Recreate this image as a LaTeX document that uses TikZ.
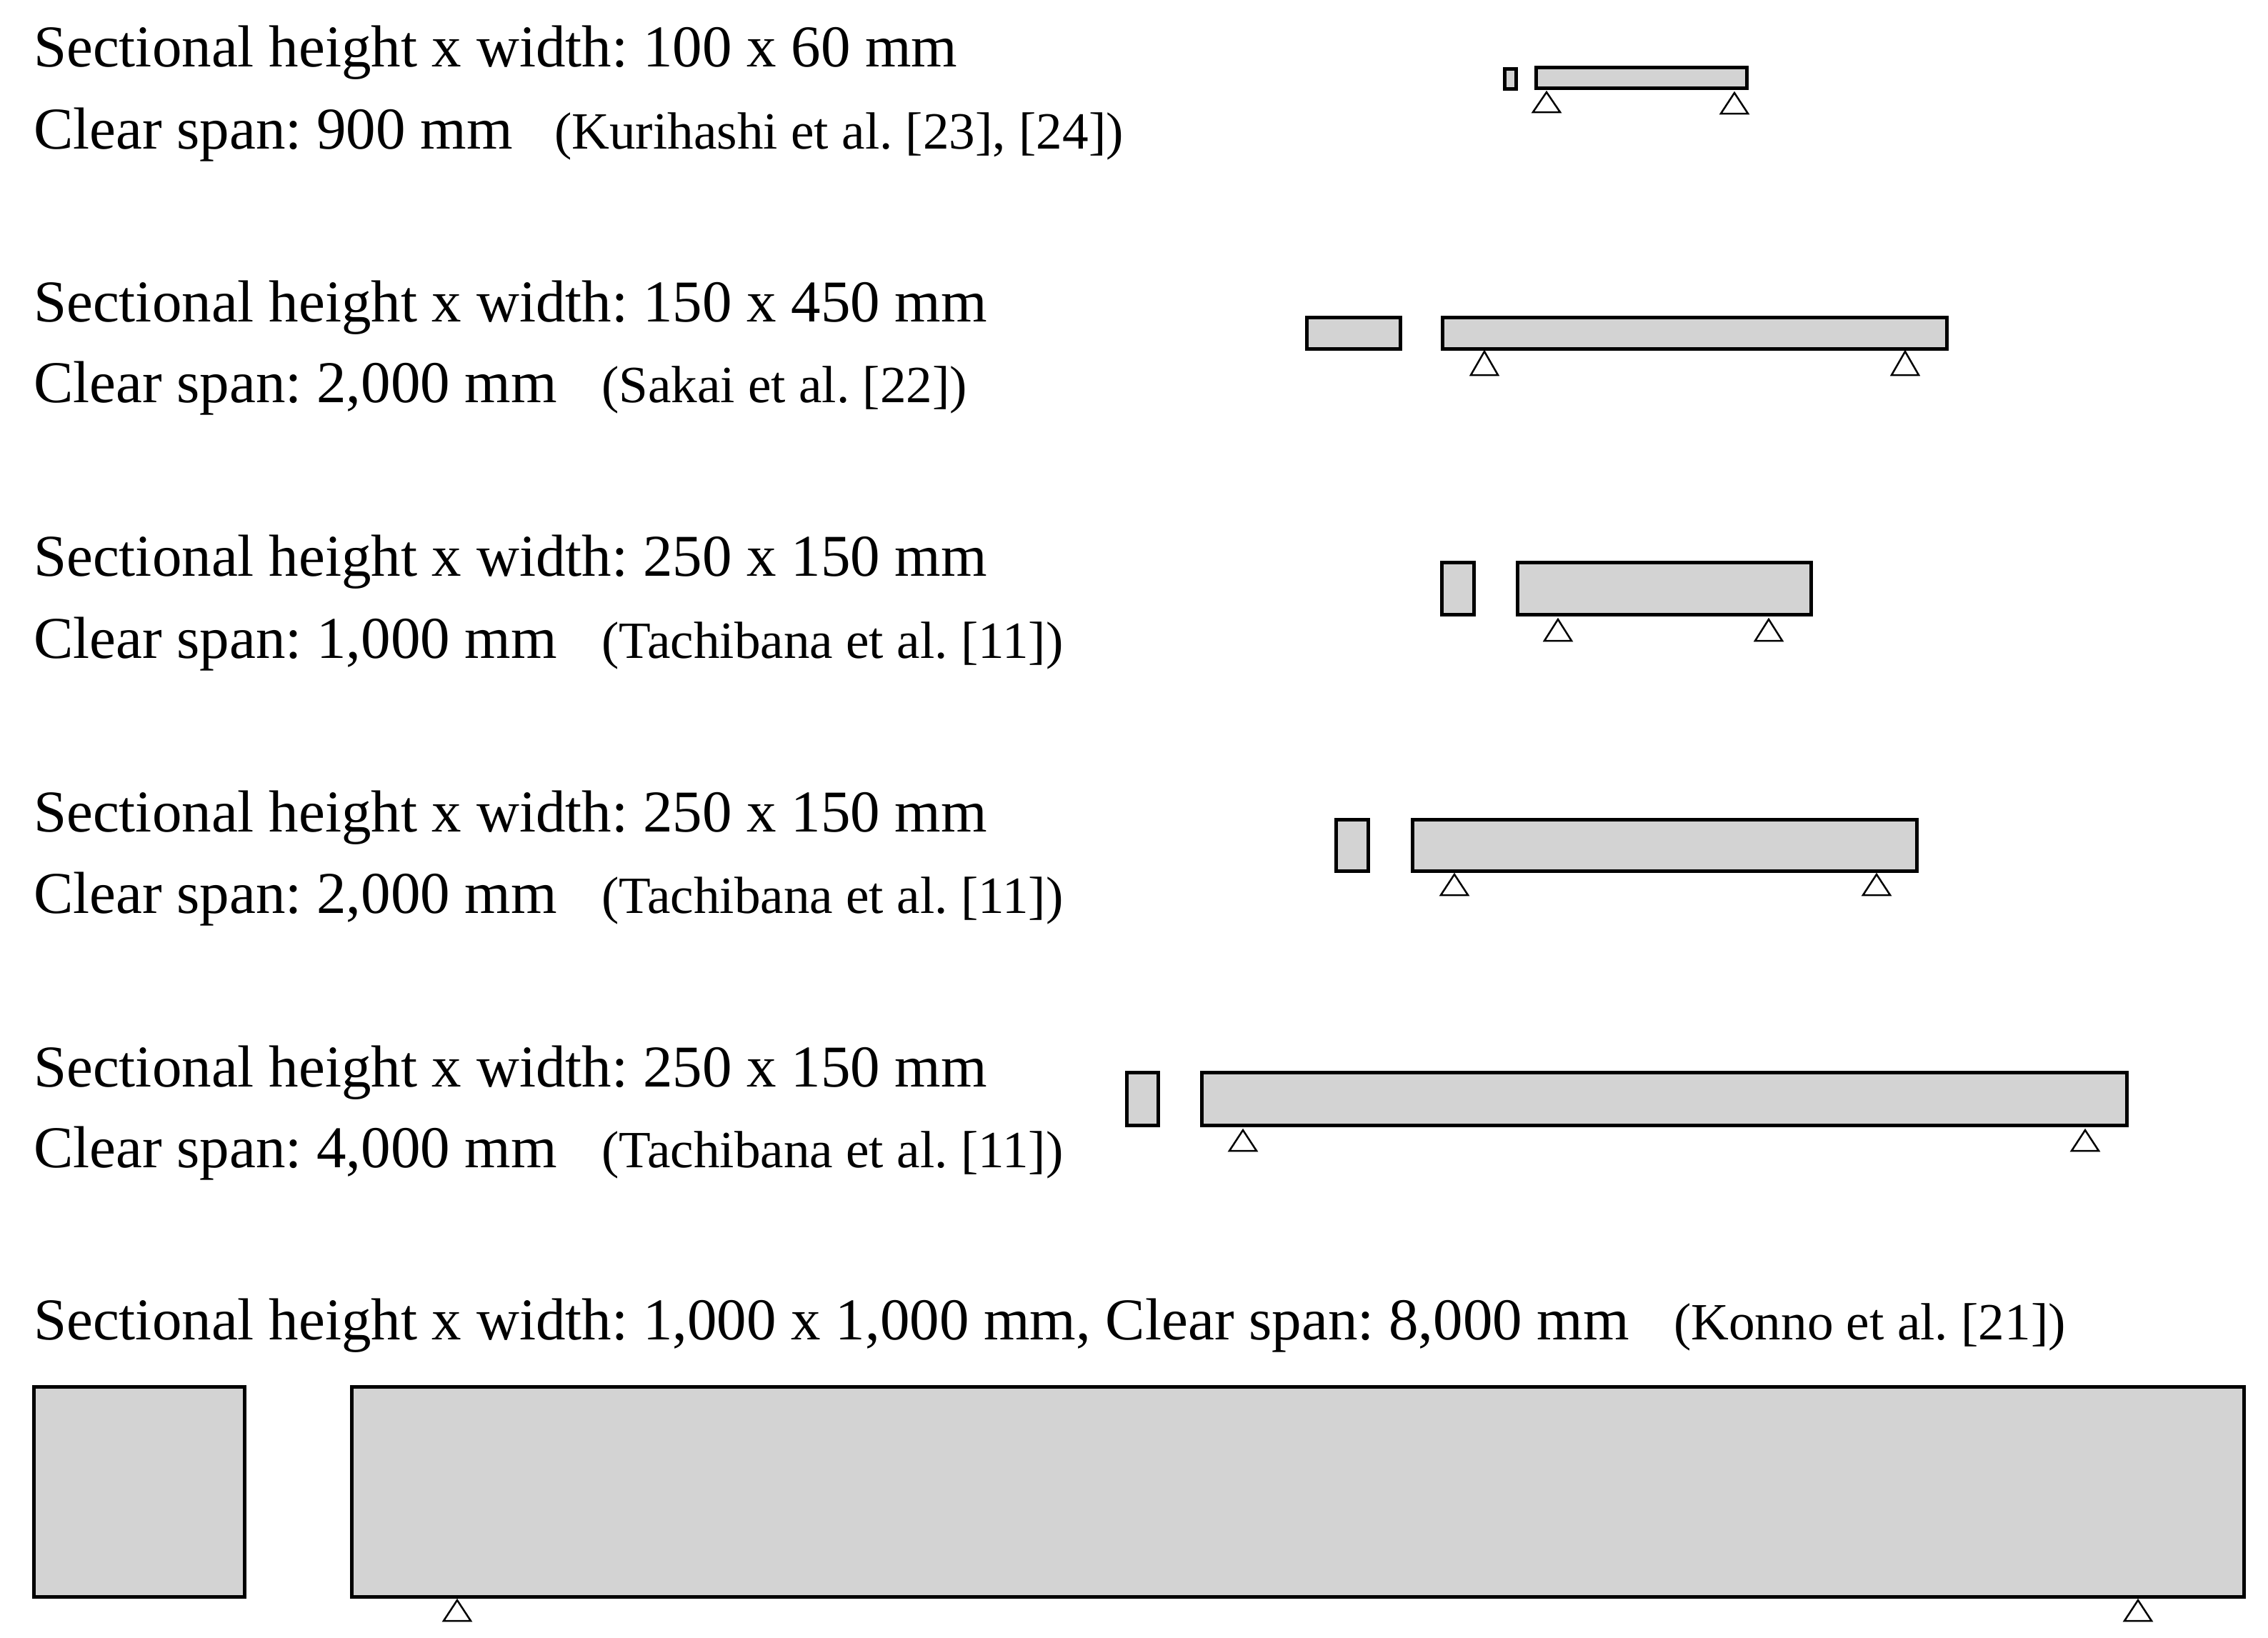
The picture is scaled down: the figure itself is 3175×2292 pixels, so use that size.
\documentclass[tikz,border=0pt]{standalone}
\usepackage{fontspec}
\setmainfont{Liberation Serif}
\definecolor{beamgray}{HTML}{D3D3D3}
\tikzset{
  px/.style={x=0.5pt,y=-0.5pt},
  member/.style={draw=black,fill=beamgray,line width=2.5pt,line join=miter},
  pin/.style={draw=black,fill=white,line width=1.25pt,line join=miter},
  main/.style={anchor=base west,inner sep=0pt,outer sep=0pt,font=\fontsize{41.5}{50}\selectfont},
  cite/.style={anchor=base west,inner sep=0pt,outer sep=0pt,font=\fontsize{36.6}{44}\selectfont},
}
\newcommand{\supportpin}[3]{\draw[pin] (#1,#2) -- (#1+19,#3) -- (#1-19,#3) -- cycle;}
\begin{document}
\frenchspacing
\begin{tikzpicture}[px]
\useasboundingbox (0,0) rectangle (3175,2292);
% text
\node[main] (a1) at (47,93) {Sectional height x width: 100 x 60 mm};
\node[main] (a2) at (47,208) {Clear span: 900 mm};
\node[cite] (a3) at (776,208) {(Kurihashi et al. [23], [24])};
\node[main] (b1) at (47,450) {Sectional height x width: 150 x 450 mm};
\node[main] (b2) at (47,563) {Clear span: 2,000 mm};
\node[cite] (b3) at (842,563) {(Sakai et al. [22])};
\node[main] (c1) at (47,806) {Sectional height x width: 250 x 150 mm};
\node[main] (c2) at (47,921) {Clear span: 1,000 mm};
\node[cite] (c3) at (842,921) {(Tachibana et al. [11])};
\node[main] (d1) at (47,1164) {Sectional height x width: 250 x 150 mm};
\node[main] (d2) at (47,1278) {Clear span: 2,000 mm};
\node[cite] (d3) at (842,1278) {(Tachibana et al. [11])};
\node[main] (e1) at (47,1521) {Sectional height x width: 250 x 150 mm};
\node[main] (e2) at (47,1634) {Clear span: 4,000 mm};
\node[cite] (e3) at (842,1634) {(Tachibana et al. [11])};
\node[main] (f1) at (47,1875) {Sectional height x width: 1,000 x 1,000 mm, Clear span: 8,000 mm};
\node[cite] (f3) at (2343,1875) {(Konno et al. [21])};
% supports
\supportpin{2165}{129}{157}
\supportpin{2428}{130}{159}
\supportpin{2078}{492}{525}
\supportpin{2667}{492}{525}
\supportpin{2181}{867}{897}
\supportpin{2476}{867}{897}
\supportpin{2036}{1224}{1253}
\supportpin{2627}{1224}{1253}
\supportpin{1740}{1582}{1611}
\supportpin{2919}{1582}{1611}
\supportpin{640}{2240}{2269}
\supportpin{2993}{2240}{2269}
% sections and beams
\draw[member] (2106,96) rectangle (2122,124);
\draw[member] (2150,94) rectangle (2445,123);
\draw[member] (1829,444) rectangle (1960,488);
\draw[member] (2019,444) rectangle (2725,488);
\draw[member] (2018,787) rectangle (2063,860);
\draw[member] (2124,787) rectangle (2535,860);
\draw[member] (1870,1147) rectangle (1915,1219);
\draw[member] (1977,1147) rectangle (2683,1219);
\draw[member] (1577,1501) rectangle (1621,1575);
\draw[member] (1682,1501) rectangle (2977,1575);
\draw[member] (47,1941) rectangle (342,2235);
\draw[member] (492,1941) rectangle (3141,2235);
\end{tikzpicture}
\end{document}
